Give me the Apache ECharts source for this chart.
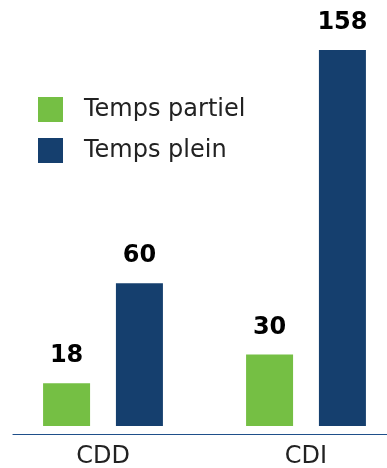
<!DOCTYPE html>
<html>
<head>
<meta charset="utf-8">
<script src="https://cdn.jsdelivr.net/npm/echarts@6/dist/echarts.min.js"></script>
<style>
  html, body { margin: 0; padding: 0; background: #ffffff; }
  #chart { width: 387px; height: 468px; }
</style>
</head>
<body>
<div id="chart"></div>
<script>
// Contract types on the horizontal axis
const categories = ['CDD', 'CDI'];
// Series names and their values per contract type
const seriesNames = ['Temps partiel', 'Temps plein'];
const partTime = [18, 30];
const fullTime = [60, 158];

const GREEN = '#75BF44';
const BLUE = '#153F6E';
const TEXT = '#222222';

const valueLabel = {
  show: true,
  position: 'top',
  distance: 15,
  color: '#000000',
  fontFamily: 'DejaVu Sans',
  fontWeight: 'bold',
  fontSize: 24
};

const chart = echarts.init(document.getElementById('chart'), null, { renderer: 'canvas' });

chart.setOption({
  animation: false,
  backgroundColor: '#ffffff',
  legend: {
    orient: 'vertical',
    left: 38,
    top: 97,
    padding: 0,
    icon: 'rect',
    itemWidth: 25,
    itemHeight: 25,
    itemGap: 16,
    selectedMode: false,
    data: seriesNames,
    textStyle: {
      color: TEXT,
      fontFamily: 'DejaVu Sans',
      fontSize: 24,
      padding: [4, 0, 0, 16]
    }
  },
  grid: [
    // plotting area for the bars (wider than the canvas on the right)
    { left: 1.5, width: 406, top: 50, bottom: 42, outerBoundsMode: 'none' },
    // baseline rule below the bars
    { left: 13, right: 0, top: 0, bottom: 34, outerBoundsMode: 'none' }
  ],
  xAxis: [
    {
      type: 'category',
      gridIndex: 0,
      data: categories,
      axisLine: { show: false },
      axisTick: { show: false },
      axisLabel: {
        margin: 19,
        color: TEXT,
        fontFamily: 'DejaVu Sans',
        fontSize: 24
      }
    },
    {
      type: 'value',
      gridIndex: 1,
      axisLine: { show: true, lineStyle: { color: '#1F4F8A', width: 1.2 } },
      axisTick: { show: false },
      axisLabel: { show: false },
      splitLine: { show: false }
    }
  ],
  yAxis: [
    { type: 'value', gridIndex: 0, min: 0, max: 'dataMax', show: false },
    { type: 'value', gridIndex: 1, show: false }
  ],
  series: [
    {
      name: seriesNames[0],
      type: 'bar',
      xAxisIndex: 0,
      yAxisIndex: 0,
      data: partTime,
      barWidth: 47,
      barGap: '55%',
      itemStyle: { color: GREEN },
      label: valueLabel
    },
    {
      name: seriesNames[1],
      type: 'bar',
      xAxisIndex: 0,
      yAxisIndex: 0,
      data: fullTime,
      barWidth: 47,
      barGap: '55%',
      itemStyle: { color: BLUE },
      label: valueLabel
    }
  ]
});
</script>
</body>
</html>
